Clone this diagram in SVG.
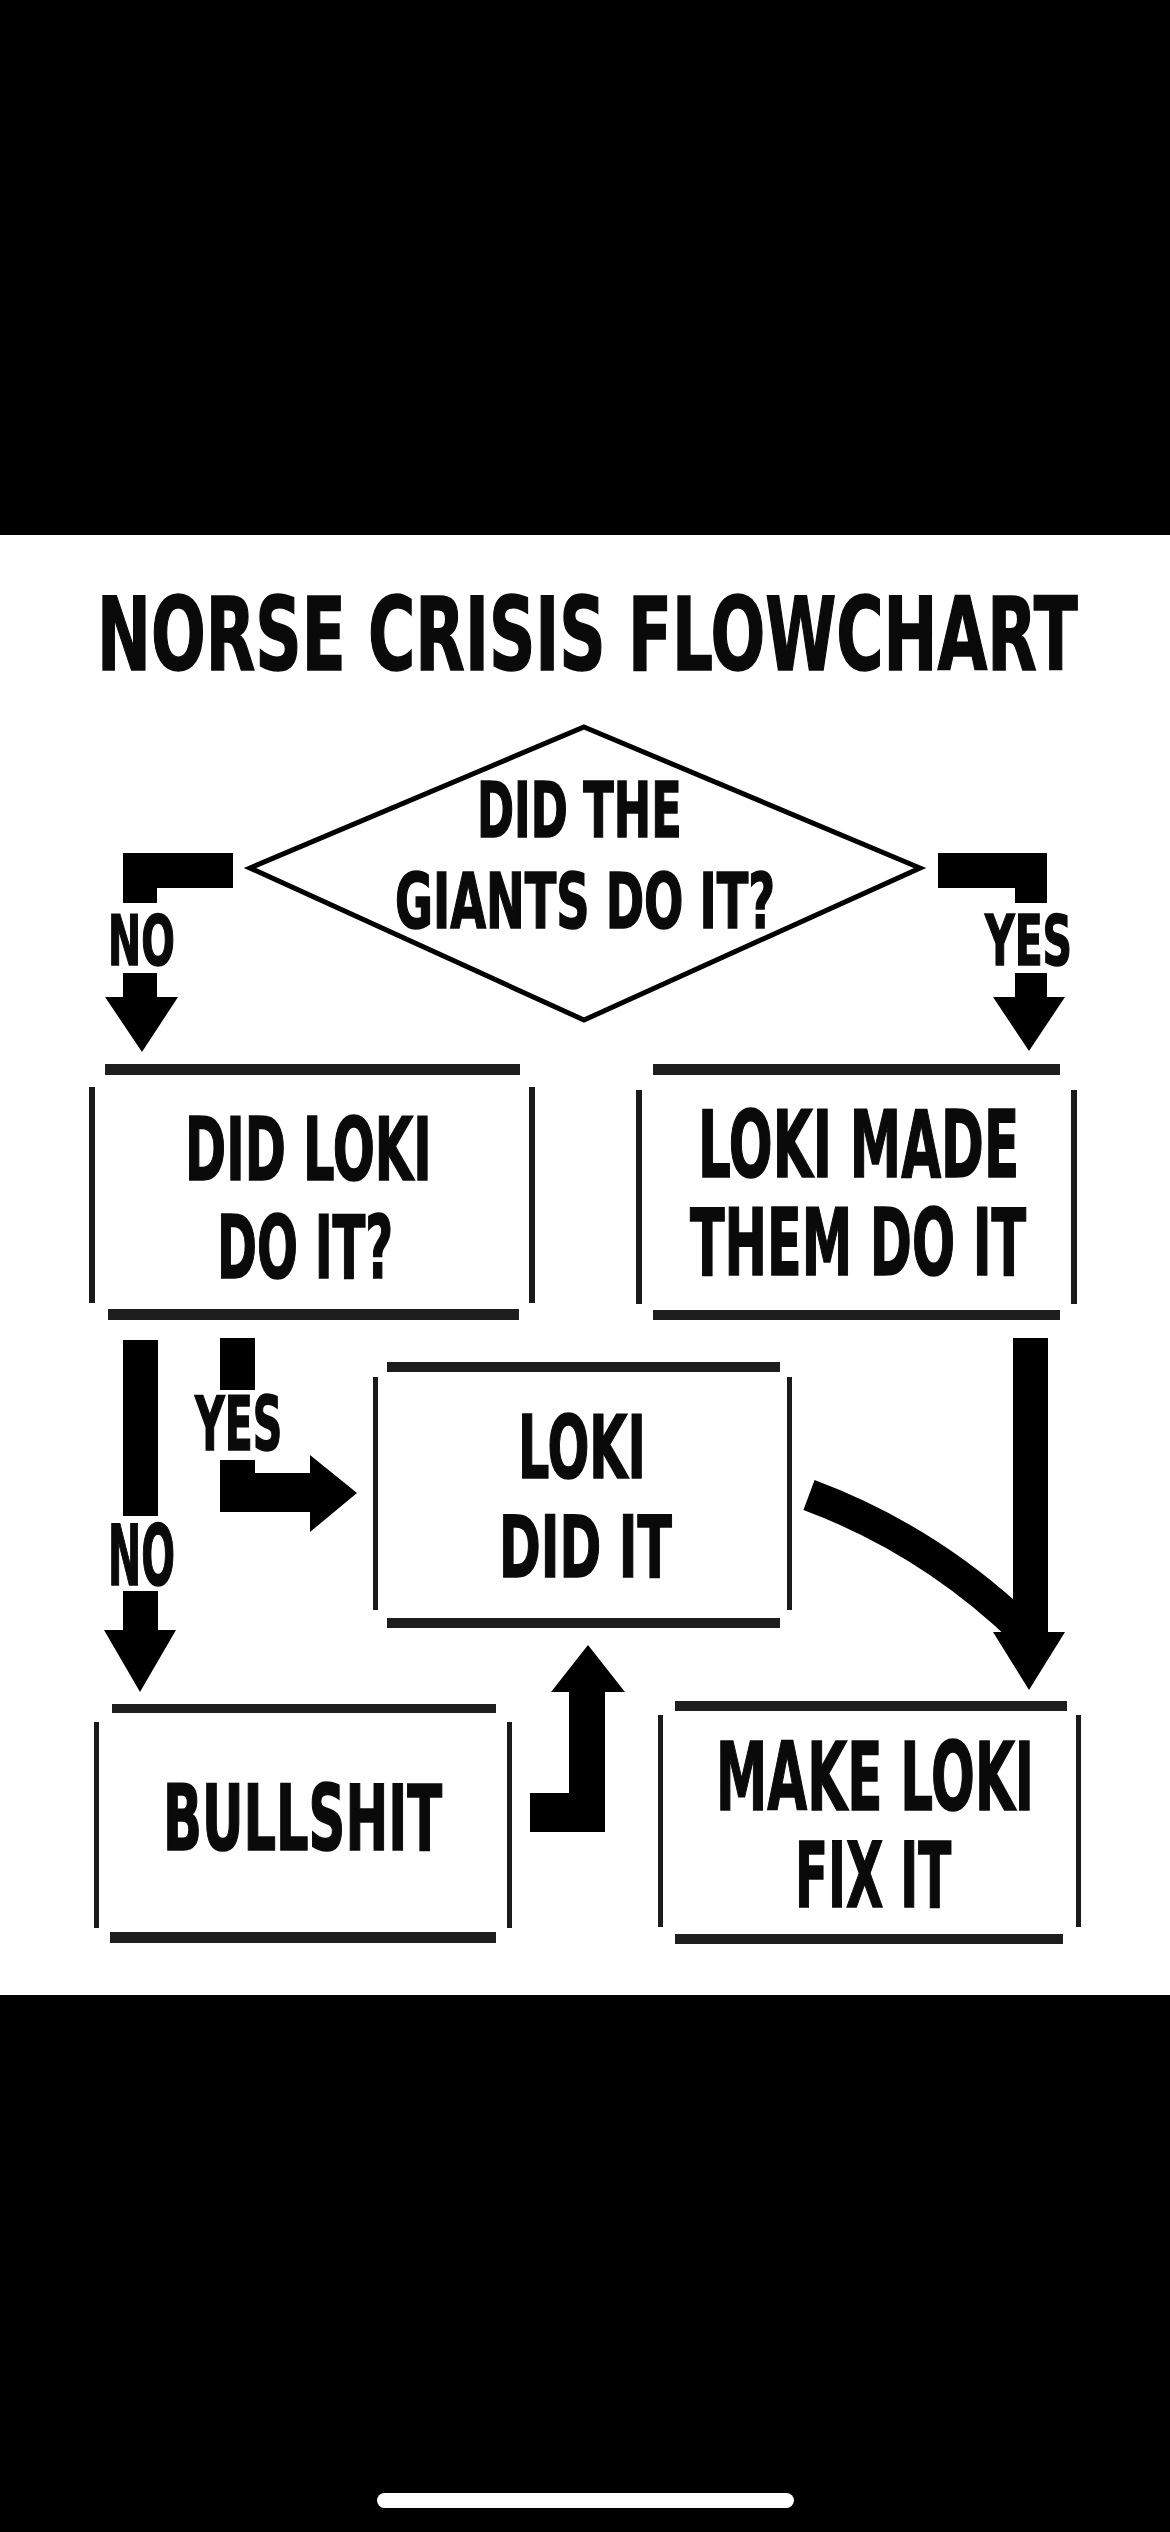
<svg xmlns="http://www.w3.org/2000/svg" width="1170" height="2532" viewBox="0 0 1170 2532">
<style>
  .t { font-family: "Liberation Sans Narrow", "DejaVu Sans Condensed", "Liberation Sans", sans-serif; font-weight: bold; fill: #0a0a0a; stroke: #0a0a0a; stroke-width: 1.5; }
  .hb { fill: #1e1e1e; }
  .vb { fill: #1a1a1a; }
  .arr { fill: #000; }
</style>
<rect x="0" y="0" width="1170" height="2532" fill="#fff"/>
<rect x="0" y="0" width="1170" height="535" fill="#000"/>
<rect x="0" y="1995" width="1170" height="537" fill="#000"/>
<rect x="377" y="2493" width="417" height="15" rx="7.5" fill="#fff"/>

<g id="title">
  <text class="t" transform="translate(97,670) scale(0.7,1)" font-size="102" textLength="1401" lengthAdjust="spacingAndGlyphs">NORSE CRISIS FLOWCHART</text>
</g>

<g id="giants">
  <polygon points="584,727 920,868 584,1020 250,868" fill="none" stroke="#000" stroke-width="5"/>
  <text class="t" transform="translate(477,837) scale(0.64,1)" font-size="76" textLength="320" lengthAdjust="spacingAndGlyphs">DID THE</text>
  <text class="t" transform="translate(395,928) scale(0.64,1)" font-size="76" textLength="594" lengthAdjust="spacingAndGlyphs">GIANTS DO IT?</text>
</g>

<g id="didloki">
  <rect class="hb" x="105" y="1064" width="415" height="11"/>
  <rect class="hb" x="108" y="1309" width="411" height="11"/>
  <rect class="vb" x="89" y="1087" width="6" height="216"/>
  <rect class="vb" x="529" y="1087" width="6" height="216"/>
  <text class="t" transform="translate(185,1180) scale(0.62,1)" font-size="88" textLength="398" lengthAdjust="spacingAndGlyphs">DID LOKI</text>
  <text class="t" transform="translate(217,1278) scale(0.61,1)" font-size="88" textLength="289" lengthAdjust="spacingAndGlyphs">DO IT?</text>
</g>

<g id="lokimade">
  <rect class="hb" x="653" y="1064" width="407" height="11"/>
  <rect class="hb" x="653" y="1310" width="407" height="10"/>
  <rect class="vb" x="636" y="1090" width="6" height="214"/>
  <rect class="vb" x="1071" y="1090" width="6" height="214"/>
  <text class="t" transform="translate(698,1177) scale(0.62,1)" font-size="92" textLength="518" lengthAdjust="spacingAndGlyphs">LOKI MADE</text>
  <text class="t" transform="translate(690,1275) scale(0.61,1)" font-size="92" textLength="551" lengthAdjust="spacingAndGlyphs">THEM DO IT</text>
</g>

<g id="lokidid">
  <rect class="hb" x="387" y="1362" width="393" height="10"/>
  <rect class="hb" x="387" y="1618" width="393" height="10"/>
  <rect class="vb" x="373" y="1377" width="5" height="233"/>
  <rect class="vb" x="787" y="1377" width="5" height="233"/>
  <text class="t" transform="translate(518,1478) scale(0.615,1)" font-size="88" textLength="208" lengthAdjust="spacingAndGlyphs">LOKI</text>
  <text class="t" transform="translate(499,1577) scale(0.65,1)" font-size="86" textLength="266" lengthAdjust="spacingAndGlyphs">DID IT</text>
</g>

<g id="bullshit">
  <rect class="hb" x="112" y="1704" width="384" height="9"/>
  <rect class="hb" x="110" y="1932" width="386" height="11"/>
  <rect class="vb" x="94" y="1722" width="5" height="206"/>
  <rect class="vb" x="507" y="1722" width="5" height="206"/>
  <text class="t" transform="translate(163,1850) scale(0.63,1)" font-size="90" textLength="443" lengthAdjust="spacingAndGlyphs">BULLSHIT</text>
</g>

<g id="makeloki">
  <rect class="hb" x="675" y="1701" width="392" height="10"/>
  <rect class="hb" x="675" y="1934" width="388" height="10"/>
  <rect class="vb" x="658" y="1715" width="5" height="212"/>
  <rect class="vb" x="1076" y="1715" width="5" height="212"/>
  <text class="t" transform="translate(716,1810) scale(0.6,1)" font-size="95" textLength="530" lengthAdjust="spacingAndGlyphs">MAKE LOKI</text>
  <text class="t" transform="translate(795,1907) scale(0.61,1)" font-size="90" textLength="256" lengthAdjust="spacingAndGlyphs">FIX IT</text>
</g>

<g id="connectors">
  <!-- giants NO -->
  <path class="arr" d="M233 853 H123 V903 H157 V888 H233 Z"/>
  <text class="t" transform="translate(108,965) scale(0.63,1)" font-size="70" textLength="106" lengthAdjust="spacingAndGlyphs">NO</text>
  <path class="arr" d="M123 973 H157 V997 H178 L142 1052 L105 997 H123 Z"/>
  <!-- giants YES -->
  <path class="arr" d="M938 853 H1047 V903 H1015 V888 H938 Z"/>
  <text class="t" transform="translate(985,965) scale(0.65,1)" font-size="70" textLength="134" lengthAdjust="spacingAndGlyphs">YES</text>
  <path class="arr" d="M1015 973 H1047 V997 H1065 L1029 1051 L993 997 H1015 Z"/>
  <!-- did loki NO -->
  <rect class="arr" x="123" y="1340" width="35" height="176"/>
  <text class="t" transform="translate(108,1585) scale(0.52,1)" font-size="84" textLength="129" lengthAdjust="spacingAndGlyphs">NO</text>
  <path class="arr" d="M123 1591 H158 V1630 H176 L140 1692 L104 1630 H123 Z"/>
  <!-- did loki YES -->
  <rect class="arr" x="220" y="1338" width="35" height="52"/>
  <text class="t" transform="translate(195,1450) scale(0.61,1)" font-size="74" textLength="143" lengthAdjust="spacingAndGlyphs">YES</text>
  <path class="arr" d="M220 1460 H255 V1473 H310 V1455 L357 1493 L310 1532 V1512 H220 Z"/>
  <!-- loki made them -> make loki fix it -->
  <rect class="arr" x="1013" y="1338" width="35" height="296"/>
  <path d="M809 1495 Q930 1540 1025 1632" fill="none" stroke="#000" stroke-width="32"/>
  <path class="arr" d="M993 1632 H1065 L1029 1690 Z"/>
  <!-- bullshit -> loki did it -->
  <path class="arr" d="M551 1692 L588 1645 L625 1692 H605 V1832 H530 V1793 H569 V1692 Z"/>
</g>
</svg>
